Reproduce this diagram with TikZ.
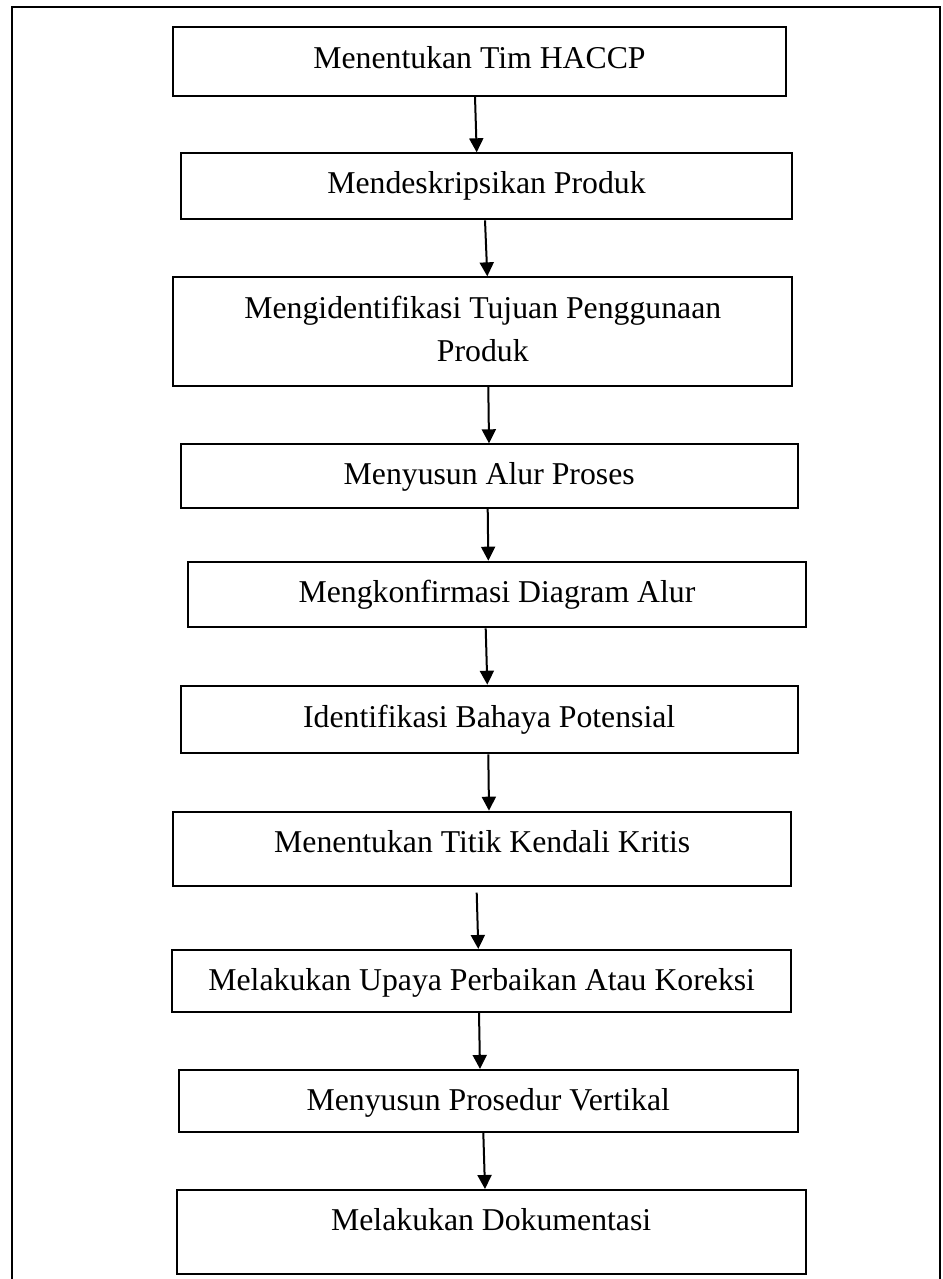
\documentclass[tikz,border=0pt]{standalone}
\usepackage{fontspec}
\setmainfont{Liberation Serif}[Ligatures=NoCommon]
\usetikzlibrary{arrows.meta}
\begin{document}
\begin{tikzpicture}[x=1pt,y=-1pt,
  stepbox/.style={draw=black, line width=2pt, inner sep=0pt, fill=none},
  txt/.style={anchor=base, inner sep=0pt, font=\fontsize{31.75}{42.7}\selectfont},
  flow/.style={line width=2pt, -{Triangle[width=14pt,length=14pt]}}]
\useasboundingbox (0,0) rectangle (942,1279);
% outer frame
\coordinate (fbl) at (11.7,1282);
\coordinate (ftl) at (11.7,7.5);
\coordinate (ftr) at (939.5,7.5);
\coordinate (fbr) at (939.5,1282);
\draw[line width=2pt] (fbl) -- (ftl) -- (ftr) -- (fbr);
% boxes
\node[stepbox, minimum width=612.4pt, minimum height=68.4pt] (b1) at (479.5,61.5) {};
\node[stepbox, minimum width=611.6pt, minimum height=66pt] (b2) at (486.5,186.3) {};
\node[stepbox, minimum width=619pt, minimum height=108.7pt] (b3) at (482.8,331.7) {};
\node[stepbox, minimum width=617pt, minimum height=63.4pt] (b4) at (489.2,476) {};
\node[stepbox, minimum width=617.4pt, minimum height=65.6pt] (b5) at (497,594.5) {};
\node[stepbox, minimum width=617pt, minimum height=67.6pt] (b6) at (489.2,719.5) {};
\node[stepbox, minimum width=617.7pt, minimum height=74pt] (b7) at (482.2,848.7) {};
\node[stepbox, minimum width=618.7pt, minimum height=61.7pt] (b8) at (481.7,980.8) {};
\node[stepbox, minimum width=618.7pt, minimum height=61.7pt] (b9) at (488.3,1100.8) {};
\node[stepbox, minimum width=629pt, minimum height=84pt] (b10) at (491.2,1232) {};
% texts
\node[txt] (t1) at (479.5,68.3) {Menentukan Tim HACCP};
\node[txt] (t2) at (486.5,193.3) {Mendeskripsikan Produk};
\node[txt] (t3a) at (482.8,318.3) {Mengidentifikasi Tujuan Penggunaan};
\node[txt] (t3b) at (482.8,361) {Produk};
\node[txt] (t4) at (489.2,484) {Menyusun Alur Proses};
\node[txt] (t5) at (497,602.7) {Mengkonfirmasi Diagram Alur};
\node[txt] (t6) at (489.2,727.7) {Identifikasi Bahaya Potensial};
\node[txt] (t7) at (482.2,852.7) {Menentukan Titik Kendali Kritis};
\node[txt] (t8) at (481.7,990) {Melakukan Upaya Perbaikan Atau Koreksi};
\node[txt] (t9) at (488.3,1110.7) {Menyusun Prosedur Vertikal};
\node[txt] (t10) at (491.2,1230.7) {Melakukan Dokumentasi};
% connectors
\draw[flow] ([xshift=-4.5pt]b1.south) -- ([xshift=-9.8pt]b2.north);
\draw[flow] ([xshift=-1.5pt]b2.south) -- ([xshift=4.5pt]b3.north);
\draw[flow] ([xshift=5.5pt]b3.south) -- ([xshift=-0.2pt]b4.north);
\draw[flow] ([xshift=-1.5pt]b4.south) -- ([xshift=-8.7pt]b5.north);
\draw[flow] ([xshift=-11.3pt]b5.south) -- ([xshift=-1.9pt]b6.north);
\draw[flow] ([xshift=-0.9pt]b6.south) -- ([xshift=6.8pt]b7.north);
\draw[flow] ([xshift=-5.5pt,yshift=-6pt]b7.south) -- ([xshift=-3.4pt]b8.north);
\draw[flow] ([xshift=-2.7pt]b8.south) -- ([xshift=-8.3pt]b9.north);
\draw[flow] ([xshift=-5pt]b9.south) -- ([xshift=-6.2pt]b10.north);
\end{tikzpicture}
\end{document}
